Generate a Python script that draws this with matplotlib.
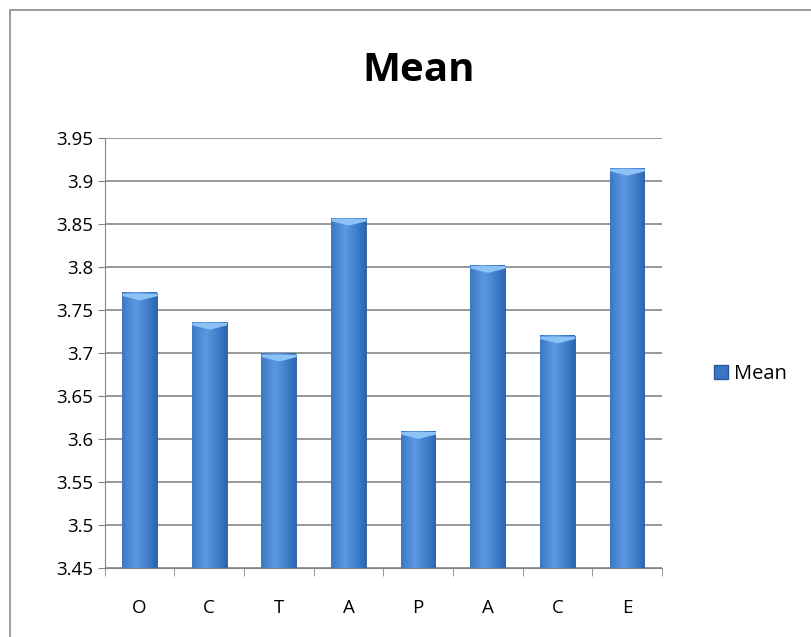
import numpy as np
import matplotlib.pyplot as plt
from matplotlib.patches import Rectangle
from matplotlib.colors import LinearSegmentedColormap

cats = ['O', 'C', 'T', 'A', 'P', 'A', 'C', 'E']
means = [3.77, 3.736, 3.699, 3.857, 3.609, 3.802, 3.72, 3.915]
yticks = [3.45, 3.5, 3.55, 3.6, 3.65, 3.7, 3.75, 3.8, 3.85, 3.9, 3.95]
ylabels = ['3.45', '3.5', '3.55', '3.6', '3.65', '3.7', '3.75', '3.8', '3.85', '3.9', '3.95']

plt.rcParams['font.family'] = ['Open Sans', 'DejaVu Sans']

fig = plt.figure(figsize=(8.12, 6.37), dpi=100)
ax = fig.add_axes([0.129, 0.108, 0.686, 0.675])

# outer chart border
fig.patches.append(Rectangle((0.012, -0.01), 0.99, 0.995, transform=fig.transFigure,
                             fill=False, ec='#8c8c8c', lw=1.2))

x = np.arange(len(cats))
w = 0.5
bars = ax.bar(x, np.array(means) - 3.45, bottom=3.45, width=w, color='#3a76c4',
              edgecolor='#2a5a9a', lw=0.6, zorder=3, label='Mean')

# cylinder-ish shading
grad = np.linspace(0, 1, 64)
shade = 1 - 0.7 * np.abs(grad - 0.4) ** 1.1
cm = LinearSegmentedColormap.from_list('b', ['#1d4a88', '#3473c2', '#5c98e0'])
for xi, m in zip(x, means):
    ax.imshow(shade[None, :], cmap=cm, aspect='auto', vmin=0.4, vmax=1,
              extent=(xi - w / 2, xi + w / 2, 3.45, m), zorder=4)
    ax.fill_between([xi - w / 2, xi, xi + w / 2], [m - 0.003, m - 0.008, m - 0.003], m,
                    color='#8cc2f5', zorder=5, lw=0)

ax.set_xlim(-0.5, len(cats) - 0.5)
ax.set_ylim(3.45, 3.95)
ax.set_yticks(yticks)
ax.set_yticklabels(ylabels, fontsize=13.5)
ax.set_xticks(x)
ax.set_xticklabels(cats, fontsize=13.5)
ax.set_xticks(np.arange(-0.5, len(cats)), minor=True)
ax.tick_params(axis='x', which='major', length=0, pad=22)
ax.tick_params(axis='x', which='minor', length=6, color='#868686')
ax.tick_params(axis='y', length=5, color='#868686')
ax.yaxis.grid(True, color='#868686', lw=1.2, zorder=0)
for s in ['top', 'right']:
    ax.spines[s].set_visible(False)
ax.spines['left'].set_color('#868686')
ax.spines['bottom'].set_color('#868686')

fig.text(0.515, 0.89, 'Mean', ha='center', va='center', fontsize=29, fontweight='bold')

fig.legend(handles=[Rectangle((0, 0), 1, 1, fc='#3a76c4', ec='#2a5a9a')], labels=['Mean'],
           loc='center left', bbox_to_anchor=(0.879, 0.413), frameon=False, fontsize=14.5,
           handlelength=0.7, handleheight=0.7, handletextpad=0.3, borderpad=0, borderaxespad=0)

fig.savefig('out.png', dpi=100)
